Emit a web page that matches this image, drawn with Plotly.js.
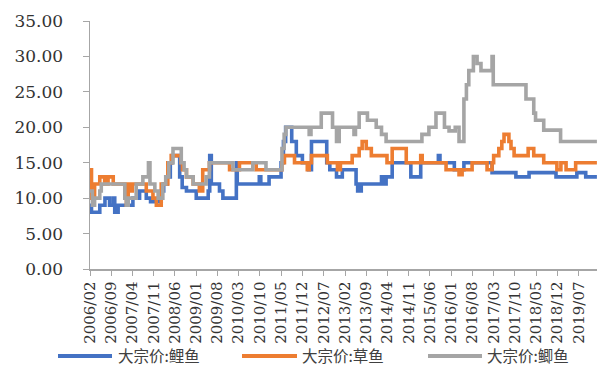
<!DOCTYPE html>
<html>
<head>
<meta charset="utf-8">
<script src="https://cdn.plot.ly/plotly-3.0.1.min.js"></script>
<style>
  html, body { margin: 0; padding: 0; background: #fff; }
  #chart { width: 598px; height: 367px; }
</style>
</head>
<body>
<div id="chart"></div>
<script>
// Wholesale fish prices (yuan/kg), step series: each date marks a price change.
const seriesNames = ['大宗价:鲤鱼', '大宗价:草鱼', '大宗价:鲫鱼'];
const seriesColors = ['#4472C4', '#ED7D31', '#A5A5A5'];

// 鲤鱼 (common carp)
const carpDates = [
  '2006-02-01','2006-02-16','2006-05-10','2006-07-01','2006-08-16','2006-09-22','2006-10-07','2006-11-10',
  '2007-04-07','2007-06-13','2007-08-19','2007-10-01','2008-01-16','2008-02-10','2008-03-16','2008-04-16',
  '2008-05-07','2008-07-19','2008-08-13','2008-09-25','2009-01-01','2009-05-01','2009-05-16','2009-06-01',
  '2009-08-22','2009-09-25','2010-02-07','2010-02-16','2010-09-25','2010-10-10','2011-01-01','2011-05-01',
  '2011-05-25','2011-06-16','2011-08-16','2011-10-01','2011-12-01','2012-02-01','2012-03-01','2012-08-01',
  '2012-09-01','2012-11-07','2013-01-04','2013-05-22','2013-06-07','2013-07-13','2014-02-01','2014-02-16',
  '2014-03-19','2014-05-19','2014-11-22','2015-03-01','2015-08-25','2015-09-10','2016-02-01','2016-05-07',
  '2017-02-13','2017-10-10','2018-02-19','2018-11-16','2019-06-13','2019-09-10','2019-12-31'
];
const carpPrice = [
  9, 8, 9, 10, 9, 10, 8, 9,
  10, 11, 10, 9.5, 11, 12, 13, 15,
  16, 13, 11.5, 11, 10, 11, 16, 12,
  11, 10, 15, 12, 13, 12, 13, 15,
  18, 20, 18, 16, 15, 14, 18, 15,
  14, 13, 14, 12, 11, 12, 13, 12,
  13, 15, 13, 15, 16, 15, 14, 15,
  13.6, 13, 13.6, 13, 13.6, 13, 13
];

// 草鱼 (grass carp)
const grassDates = [
  '2006-02-01','2006-02-16','2006-03-19','2006-05-10','2006-06-28','2006-08-01','2006-09-22','2007-01-16',
  '2007-02-01','2007-02-19','2007-03-16','2007-04-01','2007-08-19','2007-10-25','2007-11-28','2008-01-16',
  '2008-03-22','2008-04-25','2008-08-01','2008-08-16','2008-09-25','2008-12-01','2009-02-01','2009-03-07',
  '2009-05-13','2009-12-01','2010-03-10','2010-08-25','2011-05-10','2011-06-04','2011-09-13','2012-01-19',
  '2012-02-07','2012-03-01','2012-08-07','2012-11-16','2012-12-16','2013-04-13','2013-06-22','2013-07-22',
  '2013-09-01','2013-10-22','2014-03-28','2014-05-19','2014-10-07','2015-03-01','2015-03-16','2015-11-10',
  '2016-03-19','2016-04-19','2016-07-28','2016-12-25','2017-02-13','2017-03-01','2017-04-22','2017-05-22',
  '2017-06-13','2017-08-01','2017-08-22','2017-09-22','2018-02-10','2018-04-07','2018-07-16','2018-11-25',
  '2019-01-04','2019-02-25','2019-06-01','2019-12-31'
];
const grassPrice = [
  14, 10, 12, 13, 12, 13, 12, 10,
  9, 12, 11, 12, 11, 10, 9, 12,
  15, 16, 15, 14, 13, 12, 11, 14,
  15, 14, 15, 14, 15, 16, 15, 14,
  15, 16, 15, 14, 15, 16, 17, 18,
  17, 16, 15, 17, 15, 16, 15, 14,
  13.3, 14, 15, 14, 15, 16, 17, 18,
  19, 18, 17, 16, 17, 16, 15, 14,
  15, 14, 15, 15
];

// 鲫鱼 (crucian carp)
const crucianDates = [
  '2006-02-01','2006-02-25','2006-03-19','2006-05-10','2006-05-25','2007-01-16','2007-02-01','2007-02-19',
  '2007-05-10','2007-07-16','2007-09-10','2007-09-25','2007-11-13','2007-12-16','2008-02-01','2008-03-01',
  '2008-04-01','2008-05-13','2008-08-04','2008-09-01','2008-09-25','2008-12-01','2009-04-10','2009-05-13',
  '2010-01-04','2010-07-22','2010-12-01','2011-05-10','2011-06-01','2011-06-19','2012-02-07','2012-02-25',
  '2012-06-07','2012-09-28','2012-11-07','2012-12-04','2013-05-01','2013-05-16','2013-06-22','2013-09-13',
  '2013-12-10','2014-02-01','2014-03-19','2015-03-13','2015-05-22','2015-08-01','2015-10-25','2015-12-10',
  '2016-02-10','2016-03-19','2016-05-07','2016-06-01','2016-06-25','2016-08-10','2016-09-16','2016-10-25',
  '2017-02-13','2017-02-25','2018-01-19','2018-04-07','2018-04-25','2018-07-16','2019-01-01','2019-12-31'
];
const crucianPrice = [
  11, 9, 10, 11, 12, 10, 9, 10,
  12, 13, 15, 12, 11, 10, 12, 13,
  15, 17, 15, 14, 13, 12, 13, 15,
  14, 15, 14, 17, 19, 20, 19, 20,
  22, 20, 18, 20, 19, 20, 22, 21,
  20, 19, 18, 19, 20, 22, 20, 19.5,
  20, 18, 24, 26, 28, 30, 29, 28,
  30, 26, 24, 22, 21, 19.6, 18, 18
];

const yTickLabels = ['0.00','5.00','10.00','15.00','20.00','25.00','30.00','35.00'];
const yTickValues = [0, 5, 10, 15, 20, 25, 30, 35];

const seriesX = [carpDates, grassDates, crucianDates];
const seriesY = [carpPrice, grassPrice, crucianPrice];

const traces = seriesNames.map((name, i) => ({
  type: 'scatter',
  mode: 'lines',
  name: name,
  x: seriesX[i],
  y: seriesY[i],
  line: { color: seriesColors[i], width: 3.6, shape: 'hv' },
  showlegend: false,
  hoverinfo: 'skip'
}));

// Plot area in pixels, used to place the legend row below the axis labels
const plotLeft = 90, plotRight = 597, plotTop = 21, plotBottom = 269;
const plotW = plotRight - plotLeft, plotH = plotBottom - plotTop;
const toPaperX = px => (px - plotLeft) / plotW;
const toPaperY = py => (plotBottom - py) / plotH;

const legendRowY = 355;
const legendItems = [
  { lineFrom: 58, lineTo: 112, textAt: 117 },
  { lineFrom: 242, lineTo: 297, textAt: 301 },
  { lineFrom: 428, lineTo: 482, textAt: 486 }
];

const shapes = legendItems.map((it, i) => ({
  type: 'line', xref: 'paper', yref: 'paper',
  x0: toPaperX(it.lineFrom), x1: toPaperX(it.lineTo),
  y0: toPaperY(legendRowY + 1), y1: toPaperY(legendRowY + 1),
  line: { color: seriesColors[i], width: 4 }
}));

const annotations = legendItems.map((it, i) => ({
  xref: 'paper', yref: 'paper',
  x: toPaperX(it.textAt), y: toPaperY(legendRowY),
  xanchor: 'left', yanchor: 'middle',
  text: seriesNames[i], showarrow: false,
  borderpad: 0,
  font: { family: '"Noto Sans CJK SC", sans-serif', size: 15.5, color: '#404040' }
}));

const layout = {
  width: 598, height: 367,
  margin: { l: plotLeft, r: 598 - plotRight, t: plotTop, b: 367 - plotBottom, pad: 0 },
  paper_bgcolor: '#ffffff', plot_bgcolor: '#ffffff',
  showlegend: false,
  xaxis: {
    type: 'date',
    range: ['2006-02-01', '2020-01-01'],
    tick0: '2006-02-01', dtick: 'M7',
    tickformat: '%Y/%m', tickangle: -90,
    showgrid: false, zeroline: false,
    showline: true, linecolor: '#A6A6A6', linewidth: 1.5,
    ticks: 'outside', ticklen: 5, tickcolor: '#A6A6A6', tickwidth: 1,
    tickfont: { family: '"DejaVu Serif", serif', size: 15, color: '#333333' }
  },
  yaxis: {
    range: [0, 35],
    tickvals: yTickValues, ticktext: yTickLabels,
    showgrid: false, zeroline: false,
    showline: true, linecolor: '#A6A6A6', linewidth: 1.5,
    ticks: 'outside', ticklen: 6, tickcolor: '#A6A6A6', tickwidth: 1,
    ticklabelstandoff: 16,
    tickfont: { family: '"DejaVu Serif", serif', size: 17, color: '#333333' }
  },
  shapes: shapes,
  annotations: annotations
};

Plotly.newPlot('chart', traces, layout, { staticPlot: true, displayModeBar: false });
</script>
</body>
</html>
